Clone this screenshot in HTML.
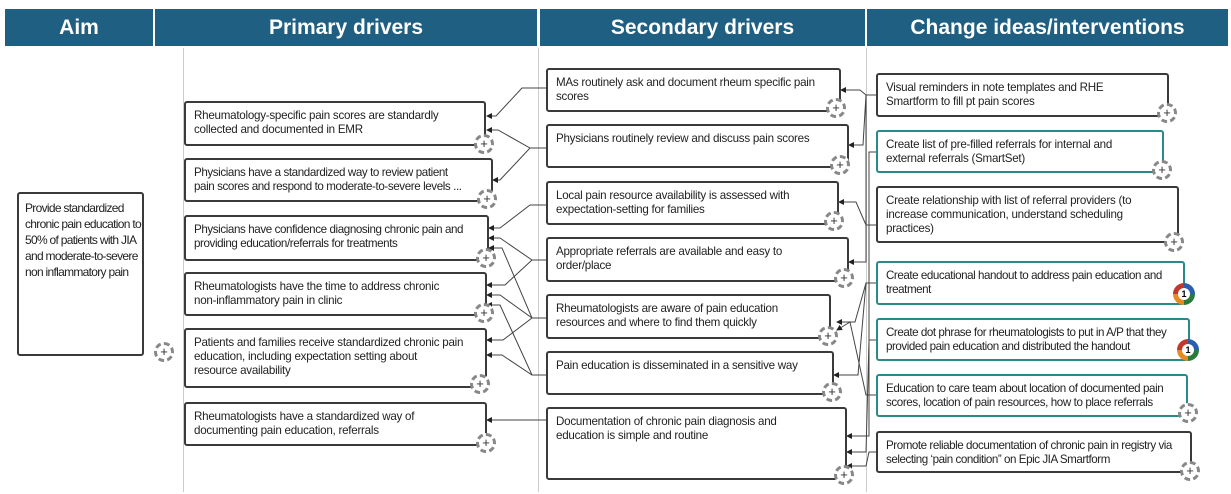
<!DOCTYPE html>
<html><head><meta charset="utf-8">
<style>
*{margin:0;padding:0;box-sizing:border-box}
body{width:1231px;height:494px;background:#fff;position:relative;overflow:hidden;font-family:"Liberation Sans",sans-serif}
.h{position:absolute;top:9px;height:37px;background:#1e5f82;color:#fff;font-weight:bold;font-size:21px;text-align:center;line-height:37px}
.vl{position:absolute;width:1px;background:#ccc;top:48px;height:444px}
.b{position:absolute;border:2px solid #3a3a3a;border-radius:3px;background:#fff;font-size:11.6px;line-height:14px;color:#222;padding:6px 8px;letter-spacing:-0.25px;white-space:nowrap}
.t{border-color:#2a8a8a}
.ic{position:absolute;width:20px;height:20px;border-radius:50%;border:3px dashed #888;background:#fff;font-size:13px;line-height:14px;text-align:center;color:#333}
.pd{position:absolute;width:22px;height:22px;border-radius:50%;background:conic-gradient(#2b5fae 0 25%,#2a7a3a 25% 50%,#e88a20 50% 75%,#c0392b 75%);}
.pd span{position:absolute;left:5px;top:5px;width:12px;height:12px;border-radius:50%;background:#fff;font-size:9px;font-weight:bold;line-height:12px;text-align:center}
svg{position:absolute;left:0;top:0}
</style></head><body>
<div class="h" style="left:5px;width:148px">Aim</div>
<div class="h" style="left:155px;width:382px">Primary drivers</div>
<div class="h" style="left:540px;width:325px">Secondary drivers</div>
<div class="h" style="left:867px;width:361px">Change ideas/interventions</div>
<div class="vl" style="left:183px"></div>
<div class="vl" style="left:538px"></div>
<div class="vl" style="left:866px"></div>

<svg width="1231" height="494">
<defs><marker id="a" markerWidth="6" markerHeight="6" refX="5" refY="3" orient="auto"><path d="M0,0 L6,3 L0,6z" fill="#222"/></marker></defs>
<g fill="none" stroke="#444" stroke-width="1" marker-end="url(#a)">
<path d="M546,88 L522,88 L496,116 L487,116"/>
<path d="M546,148 L530,148 L498,130 L487,130"/>
<path d="M546,148 L530,148 L500,180 L493,180"/>
<path d="M546,205 L530,205 L500,228 L489,228"/>
<path d="M546,260 L532,260 L500,238 L489,238"/>
<path d="M546,260 L532,260 L505,285 L487,285"/>
<path d="M546,318 L532,318 L500,295 L487,295"/>
<path d="M546,318 L532,318 L502,248 L489,248"/>
<path d="M546,318 L532,318 L503,340 L487,340"/>
<path d="M546,375 L532,375 L500,305 L487,305"/>
<path d="M546,375 L532,375 L502,355 L487,355"/>
<path d="M546,420 L530,420 L500,420 L487,420"/>
<path d="M876,95 L866,95 L860,90 L841,90"/>
<path d="M876,95 L866,95 L863,145 L849,145"/>
<path d="M876,95 L866,95 L866,262 L849,262"/>
<path d="M876,225 L866,225 L856,202 L839,202"/>
<path d="M876,283 L866,283 L855,322 L837,322"/>
<path d="M876,283 L866,283 L858,375 L834,375"/>
<path d="M876,152 L869,152 L869,436 L847,436"/>
<path d="M876,340 L869,340 L866,452 L847,452"/>
<path d="M876,395 L866,395 L850,322 L837,330"/>
<path d="M876,452 L869,452 L866,466 L847,466"/>
</g>
</svg>

<div class="b" style="left:17px;top:192px;width:127px;height:164px;font-size:12px;line-height:16px;padding:6px 6px;letter-spacing:-0.7px">Provide standardized<br>chronic pain education to<br>50% of patients with JIA<br>and moderate-to-severe<br>non inflammatory pain</div>
<div class="ic" style="left:154px;top:342px">+</div>

<div class="b" style="left:184px;top:101px;width:302px;height:45px">Rheumatology-specific pain scores are standardly<br>collected and documented in EMR</div>
<div class="ic" style="left:474px;top:134px">+</div>
<div class="b" style="left:184px;top:158px;width:309px;height:44px;letter-spacing:-0.4px">Physicians have a standardized way to review patient<br>pain scores and respond to moderate-to-severe levels ...</div>
<div class="ic" style="left:477px;top:189px">+</div>
<div class="b" style="left:184px;top:215px;width:305px;height:46px;letter-spacing:-0.4px">Physicians have confidence diagnosing chronic pain and<br>providing education/referrals for treatments</div>
<div class="ic" style="left:476px;top:248px">+</div>
<div class="b" style="left:184px;top:272px;width:303px;height:44px">Rheumatologists have the time to address chronic<br>non-inflammatory pain in clinic</div>
<div class="ic" style="left:474px;top:303px">+</div>
<div class="b" style="left:184px;top:328px;width:303px;height:60px">Patients and families receive standardized chronic pain<br>education, including expectation setting about<br>resource availability</div>
<div class="ic" style="left:470px;top:374px">+</div>
<div class="b" style="left:184px;top:402px;width:303px;height:44px">Rheumatologists have a standardized way of<br>documenting pain education, referrals</div>
<div class="ic" style="left:476px;top:433px">+</div>

<div class="b" style="left:546px;top:68px;width:295px;height:44px">MAs routinely ask and document rheum specific pain<br>scores</div>
<div class="ic" style="left:826px;top:98px">+</div>
<div class="b" style="left:546px;top:124px;width:303px;height:44px">Physicians routinely review and discuss pain scores</div>
<div class="ic" style="left:830px;top:155px">+</div>
<div class="b" style="left:546px;top:181px;width:293px;height:44px">Local pain resource availability is assessed with<br>expectation-setting for families</div>
<div class="ic" style="left:824px;top:211px">+</div>
<div class="b" style="left:546px;top:237px;width:303px;height:45px">Appropriate referrals are available and easy to<br>order/place</div>
<div class="ic" style="left:834px;top:268px">+</div>
<div class="b" style="left:546px;top:294px;width:285px;height:45px">Rheumatologists are aware of pain education<br>resources and where to find them quickly</div>
<div class="ic" style="left:818px;top:326px">+</div>
<div class="b" style="left:546px;top:351px;width:288px;height:44px">Pain education is disseminated in a sensitive way</div>
<div class="ic" style="left:822px;top:382px">+</div>
<div class="b" style="left:546px;top:407px;width:301px;height:73px">Documentation of chronic pain diagnosis and<br>education is simple and routine</div>
<div class="ic" style="left:834px;top:465px">+</div>

<div class="b" style="left:876px;top:73px;width:293px;height:44px">Visual reminders in note templates and RHE<br>Smartform to fill pt pain scores</div>
<div class="ic" style="left:1157px;top:103px">+</div>
<div class="b t" style="left:876px;top:130px;width:288px;height:43px">Create list of pre-filled referrals for internal and<br>external referrals (SmartSet)</div>
<div class="ic" style="left:1152px;top:160px">+</div>
<div class="b" style="left:876px;top:186px;width:303px;height:57px">Create relationship with list of referral providers (to<br>increase communication, understand scheduling<br>practices)</div>
<div class="ic" style="left:1164px;top:232px">+</div>
<div class="b t" style="left:876px;top:261px;width:309px;height:44px;letter-spacing:-0.45px">Create educational handout to address pain education and<br>treatment</div>
<div class="pd" style="left:1173px;top:283px"><span>1</span></div>
<div class="b t" style="left:876px;top:318px;width:314px;height:43px;letter-spacing:-0.45px">Create dot phrase for rheumatologists to put in A/P that they<br>provided pain education and distributed the handout</div>
<div class="pd" style="left:1177px;top:339px"><span>1</span></div>
<div class="b t" style="left:876px;top:374px;width:312px;height:43px;letter-spacing:-0.4px">Education to care team about location of documented pain<br>scores, location of pain resources, how to place referrals</div>
<div class="ic" style="left:1178px;top:403px">+</div>
<div class="b" style="left:876px;top:431px;width:316px;height:42px;letter-spacing:-0.45px">Promote reliable documentation of chronic pain in registry via<br>selecting ‘pain condition” on Epic JIA Smartform</div>
<div class="ic" style="left:1180px;top:461px">+</div>
</body></html>
